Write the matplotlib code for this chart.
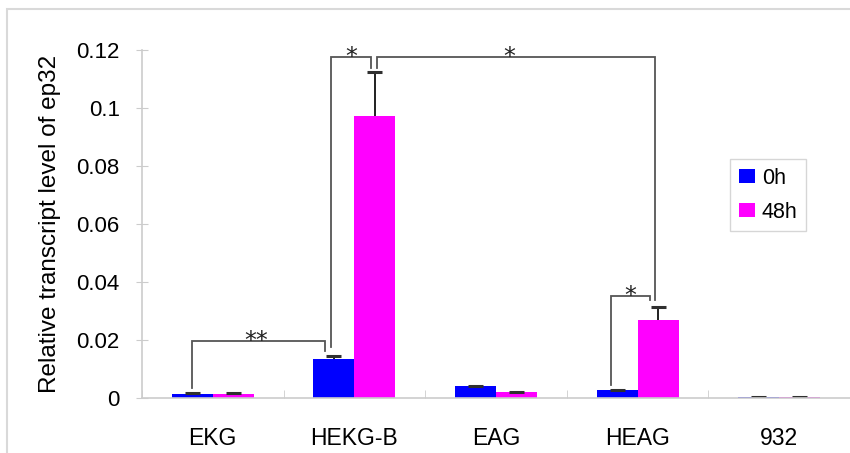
import numpy as np
import matplotlib
matplotlib.use("Agg")
import matplotlib.pyplot as plt
from matplotlib.patches import Rectangle

plt.rcParams["font.family"] = ["Liberation Sans", "DejaVu Sans"]

categories = ["EKG", "HEKG-B", "EAG", "HEAG", "932"]
series_names = ["0h", "48h"]
vals_0h = [0.0015, 0.0134, 0.0040, 0.0027, 0.0002]
vals_48h = [0.0015, 0.0973, 0.0020, 0.0269, 0.0002]
err_0h = [0.0001, 0.0011, 0.0001, 0.0001, 0.0]
err_48h = [0.0001, 0.0152, 0.0001, 0.0045, 0.0]
yticks = [0, 0.02, 0.04, 0.06, 0.08, 0.1, 0.12]
ytick_labels = ["0", "0.02", "0.04", "0.06", "0.08", "0.1", "0.12"]

# significance brackets: (x points, y points), label, label position
brackets = [
    ([-0.145, -0.145, 0.79, 0.79], [0.0035, 0.0197, 0.0197, 0.0162], "**", (0.305, 0.0197)),
    ([0.834, 0.834, 1.116, 1.116], [0.0176, 0.1176, 0.1176, 0.1138], "*", (0.975, 0.1176)),
    ([1.158, 1.158, 3.12, 3.12], [0.1138, 0.1176, 0.1176, 0.0338], "*", (2.09, 0.1176)),
    ([2.81, 2.81, 3.09, 3.09], [0.0045, 0.0352, 0.0352, 0.0338], "*", (2.95, 0.0352)),
]

W, H = 850, 453
fig = plt.figure(figsize=(W / 100, H / 100), dpi=100)

# light outer frame
fig.patches.append(Rectangle((7 / W, -0.1), 1.2, 1 - 9 / H + 0.1, transform=fig.transFigure,
                             fill=False, edgecolor="#d9d9d9", linewidth=1.5))

ax = fig.add_axes([142 / W, 55 / H, (W - 142) / W, 348 / H])

x = np.arange(len(categories))
w = 0.29
cap = 0.106
ax.bar(x - w / 2, vals_0h, w, color="#0000ff", label=series_names[0])
ax.bar(x + w / 2, vals_48h, w, color="#ff00ff", label=series_names[1])

# upper-only error bars
for xc, v, e in [(x - w / 2, vals_0h, err_0h), (x + w / 2, vals_48h, err_48h)]:
    top = np.array(v) + np.array(e)
    ax.vlines(xc, v, top, color="#202020", lw=1.4)
    ax.hlines(top, xc - cap / 2, xc + cap / 2, color="#303030", lw=2.2)

for xs, ys, lab, (tx, ty) in brackets:
    ax.plot(xs, ys, color="#555555", lw=1.3, solid_joinstyle="miter")
    ax.annotate(lab, (tx, ty), xytext=(0, -4.8), textcoords="offset points",
                ha="center", va="baseline", fontsize=17, family="DejaVu Sans", color="#222222")

ax.set_xlim(-0.5, len(categories) - 0.5)
ax.set_ylim(0, 0.12)
ax.set_yticks(yticks)
ax.set_yticklabels(ytick_labels)
ax.set_xticks(x)
ax.set_xticklabels(categories)
ax.set_xticks(np.arange(len(categories) + 1) - 0.5, minor=True)

for s in ["top", "right"]:
    ax.spines[s].set_visible(False)
for s in ["left", "bottom"]:
    ax.spines[s].set_color("#cccccc")
    ax.spines[s].set_linewidth(1.2)

ax.tick_params(axis="y", direction="inout", length=8, color="#cccccc", pad=12, labelsize=16)
ax.tick_params(axis="x", which="major", length=0, pad=21, labelsize=16.5)
ax.tick_params(axis="x", which="minor", direction="in", length=6, color="#cccccc")

ax.set_ylabel("Relative transcript level of ep32", fontsize=17.5)
ax.yaxis.set_label_coords(-0.114, 0.5)

ax.legend(loc="upper left", bbox_to_anchor=(730 / W, 1 - 159 / H), bbox_transform=fig.transFigure,
          fontsize=15.5, frameon=True, fancybox=False, edgecolor="#cccccc",
          handlelength=0.75, handleheight=0.65, handletextpad=0.33, labelspacing=0.6,
          borderpad=0.4, borderaxespad=0)

fig.savefig("out.png", dpi=100)
